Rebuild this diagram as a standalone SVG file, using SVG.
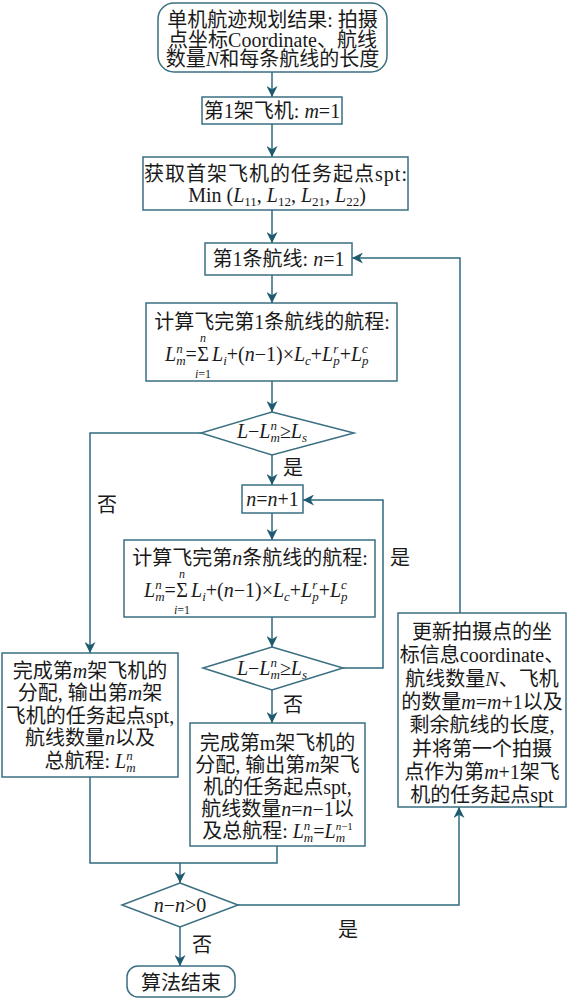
<svg xmlns="http://www.w3.org/2000/svg" width="569" height="1000" viewBox="0 0 569 1000">
<defs>
<style>
.box{fill:#fff;stroke:#3a6f82;stroke-width:1.5}
.ln{fill:none;stroke:#2f6a7e;stroke-width:1.5}
.arr{marker-end:url(#ah)}
text{font-family:'Liberation Serif','Noto Sans CJK SC',serif;font-size:20px;fill:#1a1a1a}
.c{text-anchor:middle}
.it{font-style:italic}
.s{font-size:13px;font-style:italic}
.lim{font-size:12px;text-anchor:middle}
</style>
<marker id="ah" viewBox="0 0 10 10" refX="10" refY="5" markerWidth="11" markerHeight="11" markerUnits="userSpaceOnUse" orient="auto">
<path d="M0,0 L10,5 L0,10 L3,5 z" fill="#1f5b70"/>
</marker>
</defs>
<rect width="569" height="1000" fill="#fff"/>

<g id="connectors">
<path class="ln arr" d="M272,72 V97"/>
<path class="ln arr" d="M272,124 V157"/>
<path class="ln arr" d="M272,210 V243"/>
<path class="ln arr" d="M272,275 V303"/>
<path class="ln arr" d="M272,381 V412"/>
<path class="ln arr" d="M272,455 V485"/>
<path class="ln arr" d="M272,513 V540"/>
<path class="ln arr" d="M272,617 V647"/>
<path class="ln arr" d="M272,690 V723"/>
<path class="ln arr" d="M201,433 H90 V653"/>
<path class="ln arr" d="M343,668 H383 V500 H303"/>
<path class="ln arr" d="M460,613 V258 H352"/>
<path class="ln" d="M90,777 V863 H277 V846"/>
<path class="ln arr" d="M180,863 V883"/>
<path class="ln arr" d="M238,905 H459 V807"/>
<path class="ln arr" d="M180,927 V966"/>
<text class="c" x="293" y="475">是</text>
<text class="c" x="107" y="512">否</text>
<text class="c" x="400" y="565">是</text>
<text class="c" x="293" y="712">否</text>
<text class="c" x="348" y="937">是</text>
<text class="c" x="202" y="952">否</text>
</g>

<g id="start">
<rect class="box" x="158" y="3" width="229" height="69" rx="16"/>
<text class="c" x="272.5" y="27">单机航迹规划结果: 拍摄</text>
<text class="c" x="272.5" y="47">点坐标Coordinate、航线</text>
<text class="c" x="272.5" y="66">数量<tspan class="it">N</tspan>和每条航线的长度</text>
</g>

<g id="m1">
<rect class="box" x="202" y="97" width="140" height="27"/>
<text class="c" x="272" y="118">第1架飞机: <tspan class="it">m</tspan>=1</text>
</g>

<g id="spt">
<rect class="box" x="143" y="157" width="265" height="53"/>
<text class="c" x="276" y="181" letter-spacing="1">获取首架飞机的任务起点spt:</text>
<text class="c" x="277" y="202">Min (<tspan class="it">L</tspan><tspan font-size="13" dy="4">11</tspan><tspan dy="-4">, </tspan><tspan class="it">L</tspan><tspan font-size="13" dy="4">12</tspan><tspan dy="-4">, </tspan><tspan class="it">L</tspan><tspan font-size="13" dy="4">21</tspan><tspan dy="-4">, </tspan><tspan class="it">L</tspan><tspan font-size="13" dy="4">22</tspan><tspan dy="-4">)</tspan></text>
</g>

<g id="n1">
<rect class="box" x="205" y="243" width="147" height="32"/>
<text class="c" x="278.5" y="266">第1条航线: <tspan class="it">n</tspan>=1</text>
</g>

<g id="calc1">
<rect class="box" x="146" y="303" width="251" height="78"/>
<text class="c" x="272" y="329">计算飞完第1条航线的航程:</text>
<text x="165" y="361"><tspan class="it">L</tspan><tspan class="s" dy="-8">n</tspan><tspan class="s" dx="-6.5" dy="12">m</tspan><tspan dy="-4">=</tspan></text>
<text class="c" x="203" y="361">Σ</text>
<text class="lim it" x="203" y="342">n</text>
<text class="lim" x="203" y="378"><tspan class="it">i</tspan>=1</text>
<text x="212" y="361"><tspan class="it">L</tspan><tspan class="s" dy="4">i</tspan><tspan dy="-4">+(</tspan><tspan class="it">n</tspan>−1)×<tspan class="it">L</tspan><tspan class="s" dy="4">c</tspan><tspan dy="-4">+</tspan><tspan class="it">L</tspan><tspan class="s" dy="-8">r</tspan><tspan class="s" dx="-5.1" dy="12">p</tspan><tspan dy="-4">+</tspan><tspan class="it">L</tspan><tspan class="s" dy="-8">c</tspan><tspan class="s" dx="-5.8" dy="12">p</tspan></text>
</g>

<g id="dec1">
<polygon class="box" points="272,412 354,433 272,455 201,433"/>
<text class="c" x="272" y="438"><tspan class="it">L</tspan>−<tspan class="it">L</tspan><tspan class="s" dy="-8">n</tspan><tspan class="s" dx="-6.5" dy="12">m</tspan><tspan dy="-4">≥</tspan><tspan class="it">L</tspan><tspan class="s" dy="4">s</tspan></text>
</g>

<g id="inc">
<rect class="box" x="242" y="485" width="61" height="28"/>
<text class="c" x="272.5" y="506"><tspan class="it">n</tspan>=<tspan class="it">n</tspan>+1</text>
</g>

<g id="calcn">
<rect class="box" x="124" y="540" width="251" height="77"/>
<text class="c" x="250" y="565">计算飞完第<tspan class="it">n</tspan>条航线的航程:</text>
<text x="144" y="597"><tspan class="it">L</tspan><tspan class="s" dy="-8">n</tspan><tspan class="s" dx="-6.5" dy="12">m</tspan><tspan dy="-4">=</tspan></text>
<text class="c" x="182" y="597">Σ</text>
<text class="lim it" x="182" y="578">n</text>
<text class="lim" x="182" y="614"><tspan class="it">i</tspan>=1</text>
<text x="191" y="597"><tspan class="it">L</tspan><tspan class="s" dy="4">i</tspan><tspan dy="-4">+(</tspan><tspan class="it">n</tspan>−1)×<tspan class="it">L</tspan><tspan class="s" dy="4">c</tspan><tspan dy="-4">+</tspan><tspan class="it">L</tspan><tspan class="s" dy="-8">r</tspan><tspan class="s" dx="-5.1" dy="12">p</tspan><tspan dy="-4">+</tspan><tspan class="it">L</tspan><tspan class="s" dy="-8">c</tspan><tspan class="s" dx="-5.8" dy="12">p</tspan></text>
</g>

<g id="dec2">
<polygon class="box" points="272,647 343,668 272,690 203,668"/>
<text class="c" x="272" y="675"><tspan class="it">L</tspan>−<tspan class="it">L</tspan><tspan class="s" dy="-8">n</tspan><tspan class="s" dx="-6.5" dy="12">m</tspan><tspan dy="-4">≥</tspan><tspan class="it">L</tspan><tspan class="s" dy="4">s</tspan></text>
</g>

<g id="outA">
<rect class="box" x="2" y="653" width="176" height="124"/>
<text class="c" x="90" y="677.5">完成第<tspan class="it">m</tspan>架飞机的</text>
<text class="c" x="90" y="700">分配, 输出第<tspan class="it">m</tspan>架</text>
<text class="c" x="90" y="722.5">飞机的任务起点spt,</text>
<text class="c" x="90" y="745">航线数量<tspan class="it">n</tspan>以及</text>
<text class="c" x="90" y="767.5">总航程: <tspan class="it">L</tspan><tspan class="s" dy="-8">n</tspan><tspan class="s" dx="-6.5" dy="12">m</tspan></text>
</g>

<g id="outB">
<rect class="box" x="190" y="723" width="175" height="123"/>
<text class="c" x="277.5" y="749.5">完成第m架飞机的</text>
<text class="c" x="277.5" y="771.5">分配, 输出第<tspan class="it">m</tspan>架飞</text>
<text class="c" x="277.5" y="793.5">机的任务起点spt,</text>
<text class="c" x="277.5" y="815.5">航线数量<tspan class="it">n</tspan>=<tspan class="it">n</tspan>−1以</text>
<text class="c" x="277.5" y="837.5">及总航程: <tspan class="it">L</tspan><tspan class="s" dy="-8">n</tspan><tspan class="s" dx="-6.5" dy="12">m</tspan><tspan dy="-4">=</tspan><tspan class="it">L</tspan><tspan font-size="11" dy="-8"><tspan class="it">n</tspan>−1</tspan><tspan class="s" font-size="11" dx="-17" dy="12">m</tspan></text>
</g>

<g id="update">
<rect class="box" x="398" y="613" width="168" height="194"/>
<text class="c" x="482" y="639">更新拍摄点的坐</text>
<text class="c" x="482" y="662">标信息coordinate、</text>
<text class="c" x="482" y="685.5">航线数量<tspan class="it">N</tspan>、飞机</text>
<text class="c" x="482" y="709">的数量<tspan class="it">m</tspan>=<tspan class="it">m</tspan>+1以及</text>
<text class="c" x="482" y="732">剩余航线的长度,</text>
<text class="c" x="482" y="755.5">并将第一个拍摄</text>
<text class="c" x="482" y="779">点作为第<tspan class="it">m</tspan>+1架飞</text>
<text class="c" x="482" y="802">机的任务起点spt</text>
</g>

<g id="dec3">
<polygon class="box" points="180,883 238,905 180,927 122,905"/>
<text class="c" x="180" y="912"><tspan class="it">n</tspan>−<tspan class="it">n</tspan>&gt;0</text>
</g>

<g id="end">
<rect class="box" x="127" y="966" width="108" height="31" rx="11"/>
<text class="c" x="181" y="990">算法结束</text>
</g>
</svg>
